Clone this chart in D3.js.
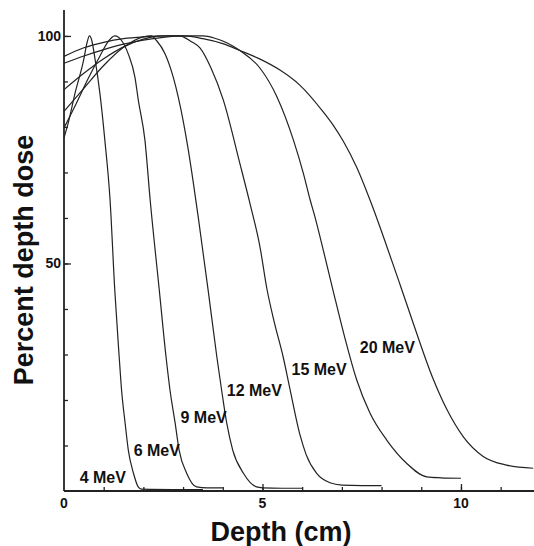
<!DOCTYPE html>
<html>
<head>
<meta charset="utf-8">
<script src="https://cdn.jsdelivr.net/npm/d3@7/dist/d3.min.js"></script>
<style>
  html, body { margin: 0; padding: 0; background: #fff; }
  svg { display: block; }
  text { font-family: "Liberation Sans", Arial, Helvetica, sans-serif; font-weight: bold; fill: #111; }
</style>
</head>
<body>
<div id="chart"></div>
<script>
// Electron beam percent depth dose curves
const energies = ["4 MeV", "6 MeV", "9 MeV", "12 MeV", "15 MeV", "20 MeV"];

const depth4 = [0, 0.11, 0.28, 0.49, 0.58, 0.64, 0.70, 0.78, 0.91, 1.03, 1.16, 1.28, 1.39, 1.45, 1.54, 1.62, 1.75, 1.87, 1.95, 2.2, 3.0, 3.5];
const dose4  = [77.6, 81, 87.5, 94.5, 98.5, 100, 99, 95, 87, 77, 64, 44, 29.5, 22.2, 14.9, 9, 3.9, 0.9, 0.4, 0.35, 0.3, 0.3];

const depth6 = [0, 0.3, 0.6, 0.9, 1.1, 1.28, 1.45, 1.62, 1.79, 1.87, 2.04, 2.17, 2.40, 2.57, 2.67, 2.80, 2.90, 3.09, 3.34, 3.6, 4.0];
const dose6  = [79.8, 85, 90.5, 95.5, 98.6, 100, 99, 96, 90.8, 86, 77, 64, 44.2, 29.5, 22.2, 14.9, 9, 3.9, 0.9, 0.7, 0.7];

const depth9 = [0, 0.5, 1.0, 1.5, 2.0, 2.2, 2.33, 2.55, 2.75, 2.88, 3.13, 3.26, 3.38, 3.63, 3.85, 3.97, 4.10, 4.25, 4.52, 4.85, 5.0, 5.5, 6.0];
const dose9  = [83.4, 88.5, 93.5, 97.5, 99.8, 100, 99, 96, 91, 86.5, 75, 67.6, 60.3, 44.2, 29.5, 22.2, 14.9, 9, 3.9, 0.9, 0.7, 0.6, 0.6];

const depth12 = [0, 0.5, 1.0, 1.5, 2.0, 2.5, 2.9, 3.2, 3.43, 3.7, 4.01, 4.43, 4.69, 4.94, 5.11, 5.3, 5.52, 5.69, 5.94, 6.1, 6.37, 6.7, 7.0, 7.5, 8.0];
const dose12  = [88.2, 91.8, 95, 97.6, 99.3, 100, 100, 98.8, 97.3, 93, 86, 72, 63, 53.5, 44.5, 37, 29.5, 22.5, 12.5, 8, 3.8, 1.8, 1.3, 1.2, 1.2];

const depth15 = [0, 0.5, 1.0, 1.5, 2.0, 2.5, 3.0, 3.5, 3.8, 4.1, 4.43, 4.94, 5.36, 5.78, 6.03, 6.2, 6.32, 6.53, 6.78, 7.08, 7.37, 7.71, 8.13, 8.63, 9.14, 9.5, 10.0];
const dose15  = [94, 95.6, 97, 98.2, 99.1, 99.7, 100, 100, 99.5, 98.5, 96.8, 92.9, 86.7, 77.1, 69.8, 64, 60.3, 53, 44, 33.5, 24.5, 17.1, 11.2, 6.1, 3.1, 2.9, 2.8];

const depth20 = [0, 0.5, 1.0, 1.5, 2.0, 2.5, 3.0, 3.5, 4.0, 4.43, 4.94, 5.44, 5.94, 6.53, 6.78, 7.04, 7.37, 7.75, 8.13, 8.46, 8.8, 9.3, 9.64, 10.06, 10.56, 11.15, 11.82];
const dose20  = [95.5, 97.4, 98.6, 99.4, 99.8, 100, 100, 99.4, 98.3, 96.8, 94.9, 92.5, 89.2, 83.3, 80.4, 76.8, 71.2, 63, 53.8, 45.5, 36.8, 24.6, 18, 11.9, 7.6, 5.7, 5.0];

const depths = [depth4, depth6, depth9, depth12, depth15, depth20];
const doses  = [dose4, dose6, dose9, dose12, dose15, dose20];

const xTickLabels = [0, 5, 10];
const yTickLabels = [50, 100];

// ---- layout ----
const W = 534, H = 546;
const x = d3.scaleLinear().domain([0, 11.84]).range([64, 534]);
const y = d3.scaleLinear().domain([0, 105.7]).range([491, 10]);

// where each energy label ends (depth, dose), just left of its curve
const labelAt = [[1.56, 1.8], [2.92, 7.7], [4.10, 14.9], [5.49, 20.8], [7.12, 25.5], [8.84, 30.3]];

const svg = d3.select("#chart").append("svg")
  .attr("width", W).attr("height", H);

svg.append("rect").attr("width", W).attr("height", H).attr("fill", "#fff");

// curves
const line = d3.line()
  .x(d => x(d[0]))
  .y(d => y(d[1]))
  .curve(d3.curveMonotoneX);

energies.forEach((name, i) => {
  const pts = depths[i].map((d, j) => [d, doses[i][j]]);
  svg.append("path")
    .attr("d", line(pts))
    .attr("fill", "none")
    .attr("stroke", "#222")
    .attr("stroke-width", 1.2)
    .attr("stroke-linejoin", "round");
});

// axes: ticks drawn inward
const xAxisMinor = d3.axisTop(x).tickValues(d3.range(1, 12)).tickSize(4).tickFormat("");
const xAxisMajor = d3.axisTop(x).tickValues([5, 10]).tickSize(7).tickFormat("");
const yAxisMinor = d3.axisRight(y).tickValues(d3.range(10, 101, 10)).tickSize(4).tickFormat("");
const yAxisMajor = d3.axisRight(y).tickValues(yTickLabels).tickSize(7).tickFormat("");

function styleAxis(g) {
  g.select(".domain").remove();
  g.selectAll("line").attr("stroke", "#222").attr("stroke-width", 1.3);
}
svg.append("g").attr("transform", `translate(0,${y(0)})`).call(xAxisMinor).call(styleAxis);
svg.append("g").attr("transform", `translate(0,${y(0)})`).call(xAxisMajor).call(styleAxis);
svg.append("g").attr("transform", `translate(${x(0)},0)`).call(yAxisMinor).call(styleAxis);
svg.append("g").attr("transform", `translate(${x(0)},0)`).call(yAxisMajor).call(styleAxis);

// axis lines
svg.append("line")
  .attr("x1", x(0)).attr("x2", W).attr("y1", y(0)).attr("y2", y(0))
  .attr("stroke", "#222").attr("stroke-width", 1.8);
svg.append("line")
  .attr("x1", x(0)).attr("x2", x(0)).attr("y1", 10).attr("y2", y(0))
  .attr("stroke", "#222").attr("stroke-width", 1.8);

// tick labels
svg.selectAll(".xl").data(xTickLabels).enter().append("text")
  .attr("x", d => x(d)).attr("y", y(0) + 17)
  .attr("text-anchor", "middle").attr("font-size", 14)
  .text(d => d);
svg.selectAll(".yl").data(yTickLabels).enter().append("text")
  .attr("x", x(0) - 3).attr("y", d => y(d) + 5)
  .attr("text-anchor", "end").attr("font-size", 14)
  .text(d => d);

// energy labels
energies.forEach((name, i) => {
  svg.append("text")
    .attr("x", x(labelAt[i][0])).attr("y", y(labelAt[i][1]))
    .attr("text-anchor", "end").attr("font-size", 16)
    .text(name);
});

// axis titles
svg.append("text")
  .attr("x", 281).attr("y", 541)
  .attr("text-anchor", "middle").attr("font-size", 27)
  .text("Depth (cm)");
svg.append("text")
  .attr("transform", "translate(33,260) rotate(-90)")
  .attr("text-anchor", "middle").attr("font-size", 27)
  .text("Percent depth dose");
</script>
</body>
</html>
